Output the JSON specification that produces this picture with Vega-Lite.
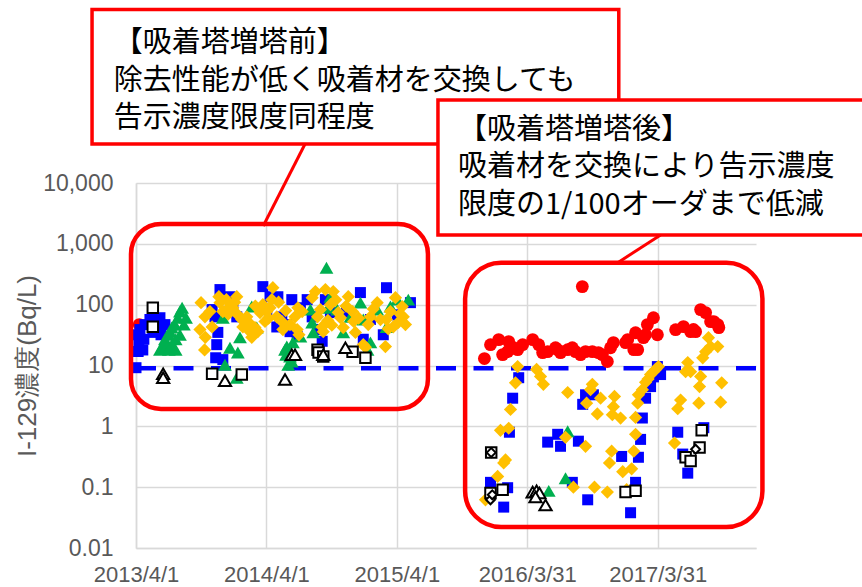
{
  "$schema": "https://vega.github.io/schema/vega-lite/v6.json",
  "width": 620,
  "height": 365,
  "autosize": "none",
  "padding": {"left": 136, "top": 183, "right": 106, "bottom": 39},
  "background": "#FFFFFF",
  "config": {
    "view": {"stroke": null},
    "font": "Liberation Sans",
    "axis": {"grid": true, "gridColor": "#D9D9D9", "gridWidth": 1.5, "domainColor": "#D9D9D9", "domainWidth": 1.5, "ticks": false, "tickSize": 0, "labelColor": "#595959", "labelFont": "Liberation Sans", "labelOverlap": false, "labelFlush": false}
  },
  "datasets": {
    "points": [
      {"s":"r","d":"2013-04-10","v":47},
      {"s":"r","d":"2015-12-02","v":13},{"s":"r","d":"2015-12-19","v":22},{"s":"r","d":"2016-01-11","v":26.6},{"s":"r","d":"2016-01-22","v":15.1},{"s":"r","d":"2016-02-05","v":16.9},{"s":"r","d":"2016-02-08","v":24.7},{"s":"r","d":"2016-02-22","v":19.6},{"s":"r","d":"2016-03-04","v":18.2},{"s":"r","d":"2016-03-18","v":22},{"s":"r","d":"2016-04-15","v":26.6},{"s":"r","d":"2016-05-02","v":22},{"s":"r","d":"2016-05-13","v":16.3},{"s":"r","d":"2016-05-27","v":16.9},{"s":"r","d":"2016-06-18","v":19.6},{"s":"r","d":"2016-06-24","v":18.2},{"s":"r","d":"2016-07-02","v":16.3},{"s":"r","d":"2016-07-22","v":18.2},{"s":"r","d":"2016-08-04","v":19.6},{"s":"r","d":"2016-08-13","v":16.9},{"s":"r","d":"2016-08-27","v":15.1},{"s":"r","d":"2016-09-01","v":198},{"s":"r","d":"2016-09-10","v":16.9},{"s":"r","d":"2016-09-29","v":16.9},{"s":"r","d":"2016-10-16","v":16.3},{"s":"r","d":"2016-10-27","v":15.1},{"s":"r","d":"2016-11-10","v":11.6},{"s":"r","d":"2016-11-19","v":19.6},{"s":"r","d":"2016-11-27","v":23.8},{"s":"r","d":"2016-12-31","v":23.8},{"s":"r","d":"2017-01-06","v":26.6},{"s":"r","d":"2017-01-23","v":18.2},{"s":"r","d":"2017-01-28","v":34.6},{"s":"r","d":"2017-02-03","v":18.2},{"s":"r","d":"2017-02-19","v":28.7},{"s":"r","d":"2017-02-25","v":32},{"s":"r","d":"2017-03-02","v":47},{"s":"r","d":"2017-03-19","v":61},{"s":"r","d":"2017-03-30","v":32},{"s":"r","d":"2017-05-20","v":38.8},{"s":"r","d":"2017-06-11","v":43.5},{"s":"r","d":"2017-07-01","v":36},{"s":"r","d":"2017-07-09","v":39},{"s":"r","d":"2017-07-15","v":36},{"s":"r","d":"2017-07-29","v":83},{"s":"r","d":"2017-08-12","v":74},{"s":"r","d":"2017-08-26","v":52.6},{"s":"r","d":"2017-09-04","v":52.6},{"s":"r","d":"2017-09-15","v":47},{"s":"r","d":"2017-09-18","v":42},

      {"s":"b","d":"2013-04-01","v":9.2},{"s":"b","d":"2013-04-04","v":32},{"s":"b","d":"2013-04-12","v":39},{"s":"b","d":"2013-04-09","v":22},{"s":"b","d":"2013-04-23","v":27},{"s":"b","d":"2013-04-26","v":47},{"s":"b","d":"2013-05-10","v":57},{"s":"b","d":"2013-05-18","v":35},{"s":"b","d":"2013-05-30","v":47},{"s":"b","d":"2013-06-07","v":61},{"s":"b","d":"2013-06-10","v":32},{"s":"b","d":"2013-06-21","v":47},{"s":"b","d":"2013-04-20","v":18},{"s":"b","d":"2013-04-07","v":17},
      {"s":"b","d":"2013-11-22","v":177},{"s":"b","d":"2013-12-20","v":135},{"s":"b","d":"2013-10-31","v":83},{"s":"b","d":"2013-11-08","v":63},{"s":"b","d":"2013-11-16","v":35},{"s":"b","d":"2013-11-13","v":22},{"s":"b","d":"2013-11-10","v":13.4},{"s":"b","d":"2013-11-30","v":12.5},{"s":"b","d":"2013-12-28","v":89},{"s":"b","d":"2014-01-08","v":63},{"s":"b","d":"2014-03-22","v":198},{"s":"b","d":"2014-04-11","v":135},{"s":"b","d":"2014-04-30","v":43},{"s":"b","d":"2014-05-28","v":47},{"s":"b","d":"2014-06-11","v":121},{"s":"b","d":"2014-05-14","v":63},{"s":"b","d":"2014-04-02","v":83},{"s":"b","d":"2014-06-26","v":30},{"s":"b","d":"2014-07-24","v":121},{"s":"b","d":"2014-08-22","v":39},{"s":"b","d":"2014-09-04","v":25},{"s":"b","d":"2014-08-07","v":63},{"s":"b","d":"2014-09-13","v":121},{"s":"b","d":"2014-12-20","v":158},{"s":"b","d":"2014-11-11","v":74},{"s":"b","d":"2014-09-27","v":74},{"s":"b","d":"2014-12-28","v":27},{"s":"b","d":"2015-03-03","v":190},{"s":"b","d":"2015-02-22","v":32},{"s":"b","d":"2015-01-17","v":57},{"s":"b","d":"2015-05-09","v":108},{"s":"b","d":"2015-04-02","v":68},{"s":"b","d":"2014-05-09","v":47},{"s":"b","d":"2014-06-06","v":36},{"s":"b","d":"2014-07-05","v":89},{"s":"b","d":"2014-05-03","v":135},
      {"s":"b","d":"2016-03-07","v":6.3},{"s":"b","d":"2016-02-19","v":2.9},{"s":"b","d":"2016-02-10","v":0.8},{"s":"b","d":"2015-12-19","v":0.12},{"s":"b","d":"2016-02-05","v":0.098},{"s":"b","d":"2016-01-25","v":0.047},{"s":"b","d":"2016-05-27","v":0.55},{"s":"b","d":"2016-06-24","v":0.74},{"s":"b","d":"2016-07-02","v":0.47},{"s":"b","d":"2016-08-21","v":0.57},{"s":"b","d":"2016-08-04","v":0.12},{"s":"b","d":"2016-09-16","v":0.062},{"s":"b","d":"2016-09-10","v":3.3},{"s":"b","d":"2016-10-02","v":3.3},{"s":"b","d":"2016-09-02","v":2.3},{"s":"b","d":"2016-12-20","v":0.32},{"s":"b","d":"2017-02-05","v":0.31},{"s":"b","d":"2017-02-11","v":0.61},{"s":"b","d":"2017-02-16","v":1.37},{"s":"b","d":"2017-02-25","v":2.9},{"s":"b","d":"2017-03-11","v":4.5},{"s":"b","d":"2017-03-19","v":6.5},{"s":"b","d":"2017-03-30","v":9.6},{"s":"b","d":"2017-04-08","v":7.1},{"s":"b","d":"2017-01-28","v":0.12},{"s":"b","d":"2017-01-14","v":0.038},{"s":"b","d":"2017-05-26","v":0.8},{"s":"b","d":"2017-06-09","v":0.35},{"s":"b","d":"2017-06-23","v":0.17},{"s":"b","d":"2017-08-07","v":0.95},

      {"s":"g","d":"2013-06-07","v":18.2},{"s":"g","d":"2013-06-16","v":22},{"s":"g","d":"2013-06-21","v":27},{"s":"g","d":"2013-06-30","v":32},{"s":"g","d":"2013-07-05","v":36},{"s":"g","d":"2013-07-10","v":42},{"s":"g","d":"2013-07-19","v":47},{"s":"g","d":"2013-07-27","v":61},{"s":"g","d":"2013-08-02","v":77},{"s":"g","d":"2013-08-08","v":89},{"s":"g","d":"2013-06-24","v":19.6},{"s":"g","d":"2013-07-10","v":22},{"s":"g","d":"2013-07-21","v":27},{"s":"g","d":"2013-08-02","v":32},{"s":"g","d":"2013-08-13","v":47},{"s":"g","d":"2013-08-19","v":61},{"s":"g","d":"2013-07-02","v":18.2},{"s":"g","d":"2013-07-21","v":18.2},
      {"s":"g","d":"2013-11-30","v":61},{"s":"g","d":"2013-12-20","v":19.6},{"s":"g","d":"2014-01-17","v":29},{"s":"g","d":"2014-01-11","v":16.3},{"s":"g","d":"2014-02-19","v":93},{"s":"g","d":"2014-03-05","v":42},{"s":"g","d":"2013-12-06","v":10.3},{"s":"g","d":"2014-01-08","v":6.3},{"s":"g","d":"2014-05-28","v":20.5},{"s":"g","d":"2014-06-06","v":14},{"s":"g","d":"2014-06-01","v":10.3},{"s":"g","d":"2014-05-23","v":18.2},{"s":"g","d":"2014-06-14","v":24},{"s":"g","d":"2014-07-05","v":30},{"s":"g","d":"2014-08-02","v":83},{"s":"g","d":"2014-08-10","v":35},{"s":"g","d":"2014-08-07","v":51},{"s":"g","d":"2014-09-16","v":405},{"s":"g","d":"2014-09-27","v":135},{"s":"g","d":"2014-09-21","v":89},{"s":"g","d":"2014-10-16","v":83},{"s":"g","d":"2014-11-02","v":35},{"s":"g","d":"2014-11-22","v":63},{"s":"g","d":"2014-12-20","v":108},{"s":"g","d":"2014-12-28","v":57},{"s":"g","d":"2015-01-17","v":24},{"s":"g","d":"2015-02-05","v":83},{"s":"g","d":"2015-03-03","v":43},{"s":"g","d":"2015-04-02","v":121},{"s":"g","d":"2015-05-03","v":121},{"s":"g","d":"2015-03-14","v":93},{"s":"g","d":"2015-01-09","v":18.2},{"s":"g","d":"2014-06-11","v":11.6},{"s":"g","d":"2014-06-06","v":17},{"s":"g","d":"2014-05-26","v":15},
      {"s":"g","d":"2016-07-22","v":0.83},{"s":"g","d":"2016-07-16","v":0.14},{"s":"g","d":"2016-05-30","v":0.087},

      {"s":"y","d":"2013-09-30","v":108},{"s":"y","d":"2013-10-11","v":63},{"s":"y","d":"2013-09-27","v":39},{"s":"y","d":"2013-10-12","v":29},{"s":"y","d":"2013-10-10","v":18},{"s":"y","d":"2013-10-25","v":77},{"s":"y","d":"2013-10-31","v":43},{"s":"y","d":"2013-11-19","v":135},{"s":"y","d":"2013-11-22","v":108},{"s":"y","d":"2013-11-30","v":77},{"s":"y","d":"2013-12-10","v":121},{"s":"y","d":"2013-12-20","v":93},{"s":"y","d":"2013-12-28","v":89},{"s":"y","d":"2014-01-08","v":135},{"s":"y","d":"2014-01-11","v":68},{"s":"y","d":"2014-01-22","v":57},{"s":"y","d":"2014-01-25","v":43},{"s":"y","d":"2014-02-05","v":63},{"s":"y","d":"2014-02-08","v":39},{"s":"y","d":"2014-02-19","v":29},{"s":"y","d":"2014-02-28","v":42},{"s":"y","d":"2014-03-08","v":36},{"s":"y","d":"2014-03-14","v":74},{"s":"y","d":"2014-03-22","v":100},{"s":"y","d":"2014-03-28","v":53},{"s":"y","d":"2014-04-02","v":77},{"s":"y","d":"2014-04-11","v":89},{"s":"y","d":"2014-04-16","v":121},{"s":"y","d":"2014-04-19","v":190},{"s":"y","d":"2014-04-30","v":63},{"s":"y","d":"2014-05-14","v":53},{"s":"y","d":"2014-05-17","v":39},{"s":"y","d":"2014-06-06","v":47},{"s":"y","d":"2014-06-20","v":63},{"s":"y","d":"2014-06-26","v":39},{"s":"y","d":"2014-06-28","v":89},{"s":"y","d":"2014-07-10","v":77},{"s":"y","d":"2014-08-07","v":130},{"s":"y","d":"2014-08-16","v":164},{"s":"y","d":"2014-08-22","v":63},{"s":"y","d":"2014-08-30","v":83},{"s":"y","d":"2014-09-04","v":43},{"s":"y","d":"2014-09-07","v":36},{"s":"y","d":"2014-09-13","v":177},{"s":"y","d":"2014-09-27","v":100},{"s":"y","d":"2014-10-05","v":164},{"s":"y","d":"2014-10-19","v":74},{"s":"y","d":"2014-10-25","v":61},{"s":"y","d":"2014-11-02","v":42},{"s":"y","d":"2014-11-16","v":135},{"s":"y","d":"2014-11-28","v":77},{"s":"y","d":"2014-12-01","v":53},{"s":"y","d":"2014-12-06","v":35},{"s":"y","d":"2014-12-28","v":22},{"s":"y","d":"2015-01-03","v":20},{"s":"y","d":"2015-01-11","v":47},{"s":"y","d":"2015-01-17","v":63},{"s":"y","d":"2015-02-05","v":108},{"s":"y","d":"2015-02-14","v":57},{"s":"y","d":"2015-03-03","v":57},{"s":"y","d":"2015-03-14","v":77},{"s":"y","d":"2015-03-22","v":43},{"s":"y","d":"2015-03-28","v":130},{"s":"y","d":"2015-04-05","v":51},{"s":"y","d":"2015-04-16","v":93},{"s":"y","d":"2015-04-19","v":63},{"s":"y","d":"2015-04-25","v":47},{"s":"y","d":"2015-02-28","v":20.5},
      {"s":"y","d":"2013-12-15","v":70},{"s":"y","d":"2014-01-02","v":110},{"s":"y","d":"2014-02-12","v":50},{"s":"y","d":"2014-03-01","v":95},{"s":"y","d":"2014-04-07","v":60},{"s":"y","d":"2014-05-05","v":110},{"s":"y","d":"2014-05-25","v":80},{"s":"y","d":"2014-09-20","v":55},{"s":"y","d":"2014-10-12","v":120},{"s":"y","d":"2014-11-10","v":95},{"s":"y","d":"2014-12-15","v":60},{"s":"y","d":"2015-01-25","v":85},{"s":"y","d":"2015-03-08","v":40},{"s":"y","d":"2015-04-10","v":70},{"s":"y","d":"2014-07-01","v":32},{"s":"y","d":"2014-10-01","v":46},
      {"s":"y","d":"2016-03-04","v":9.6},{"s":"y","d":"2016-02-27","v":5.2},{"s":"y","d":"2016-02-13","v":1.9},{"s":"y","d":"2016-01-16","v":0.86},{"s":"y","d":"2016-02-08","v":0.93},{"s":"y","d":"2016-01-30","v":0.28},{"s":"y","d":"2016-01-25","v":0.25},{"s":"y","d":"2016-01-08","v":0.15},{"s":"y","d":"2015-12-05","v":0.062},{"s":"y","d":"2016-04-26","v":8.6},{"s":"y","d":"2016-05-07","v":6.6},{"s":"y","d":"2016-05-15","v":4.9},{"s":"y","d":"2016-07-22","v":3.6},{"s":"y","d":"2016-07-16","v":0.66},{"s":"y","d":"2016-09-10","v":0.47},{"s":"y","d":"2016-09-29","v":4.9},{"s":"y","d":"2016-09-24","v":4.0},{"s":"y","d":"2016-10-22","v":2.9},{"s":"y","d":"2016-09-13","v":2.4},{"s":"y","d":"2016-10-13","v":1.6},{"s":"y","d":"2016-11-30","v":3.1},{"s":"y","d":"2016-11-27","v":2.1},{"s":"y","d":"2016-11-24","v":1.55},{"s":"y","d":"2016-11-22","v":0.39},{"s":"y","d":"2016-11-16","v":0.25},{"s":"y","d":"2016-10-05","v":0.1},{"s":"y","d":"2016-11-10","v":0.083},{"s":"y","d":"2016-08-07","v":0.1},{"s":"y","d":"2016-12-17","v":1.37},{"s":"y","d":"2017-02-03","v":2.4},{"s":"y","d":"2017-01-28","v":1.4},{"s":"y","d":"2017-02-05","v":3.3},{"s":"y","d":"2017-02-16","v":4.0},{"s":"y","d":"2017-02-25","v":5.3},{"s":"y","d":"2017-03-11","v":7.1},{"s":"y","d":"2017-03-25","v":8.6},{"s":"y","d":"2017-04-02","v":9.6},{"s":"y","d":"2017-01-28","v":0.74},{"s":"y","d":"2017-01-23","v":0.39},{"s":"y","d":"2016-12-23","v":0.18},{"s":"y","d":"2017-01-17","v":0.2},{"s":"y","d":"2017-01-03","v":0.091},{"s":"y","d":"2017-08-20","v":28.7},{"s":"y","d":"2017-09-15","v":20.5},{"s":"y","d":"2017-08-04","v":13.4},{"s":"y","d":"2017-07-29","v":6.6},{"s":"y","d":"2017-06-23","v":11.2},{"s":"y","d":"2017-06-17","v":7.9},{"s":"y","d":"2017-07-26","v":4.5},{"s":"y","d":"2017-09-26","v":5.2},{"s":"y","d":"2017-07-24","v":2.4},{"s":"y","d":"2017-09-23","v":2.5},{"s":"y","d":"2017-06-03","v":2.7},{"s":"y","d":"2017-05-26","v":1.95},{"s":"y","d":"2017-05-17","v":0.53},{"s":"y","d":"2017-08-12","v":16.9},{"s":"y","d":"2017-08-26","v":20.5},{"s":"y","d":"2017-07-01","v":7.9},{"s":"y","d":"2017-03-18","v":7.8},{"s":"y","d":"2017-03-04","v":6.0},

      {"s":"sq","d":"2013-05-18","v":89},{"s":"sq","d":"2013-05-18","v":43.5},{"s":"sq","d":"2013-10-31","v":7.3},{"s":"sq","d":"2014-01-22","v":7.1},{"s":"sq","d":"2014-08-22","v":18.2},{"s":"sq","d":"2014-08-25","v":16.3},{"s":"sq","d":"2014-09-07","v":14},{"s":"sq","d":"2014-11-28","v":16.9},{"s":"sq","d":"2015-01-03","v":13.4},{"s":"sq","d":"2015-12-21","v":0.37},{"s":"sq","d":"2016-01-22","v":0.091},{"s":"sq","d":"2015-12-19","v":0.08},{"s":"sq","d":"2016-12-31","v":0.083},{"s":"sq","d":"2017-01-28","v":0.087},{"s":"sq","d":"2017-08-01","v":0.86},{"s":"sq","d":"2017-07-26","v":0.45},{"s":"sq","d":"2017-06-17","v":0.31},{"s":"sq","d":"2017-07-01","v":0.27},

      {"s":"tri","d":"2013-06-16","v":7.3},{"s":"tri","d":"2013-06-16","v":6.3},{"s":"tri","d":"2013-12-06","v":5.6},{"s":"tri","d":"2014-06-11","v":15},{"s":"tri","d":"2014-06-20","v":15},{"s":"tri","d":"2014-05-23","v":5.9},{"s":"tri","d":"2014-09-07","v":15},{"s":"tri","d":"2014-11-08","v":19.6},{"s":"tri","d":"2016-04-15","v":0.083},{"s":"tri","d":"2016-04-26","v":0.087},{"s":"tri","d":"2016-05-04","v":0.08},{"s":"tri","d":"2016-04-23","v":0.069},{"s":"tri","d":"2016-05-21","v":0.051},

      {"s":"dia","d":"2015-12-21","v":0.37},{"s":"dia","d":"2015-12-19","v":0.062},{"s":"dia","d":"2015-12-24","v":0.075},{"s":"dia","d":"2017-07-15","v":0.42}
    ],
    "limit": [{"v": 9}],
    "rounded": [
      {"k":"r1","x":"2013-03-18","x2":"2015-06-27","y":2120,"y2":1.93},
      {"k":"r2","x":"2015-10-09","x2":"2018-01-18","y":490,"y2":0.0221}
    ],
    "boxes": [
      {"k":"b1","x":"2012-11-29","x2":"2016-12-12","y":7130000,"y2":43800},
      {"k":"b2","x":"2015-07-25","x2":"2018-12-15","y":231700,"y2":1400}
    ],
    "callouts": [
      {"k":"b1","x":"2014-07-18","y":43800,"x2":"2014-03-23","y2":1965},
      {"k":"b2","x":"2017-04-08","y":1400,"x2":"2016-12-09","y2":490}
    ],
    "texts": [
      {"k":"b1","t":"【吸着塔増塔前】\n除去性能が低く吸着材を交換しても\n告示濃度限度同程度","d":"2013-01-29","v":2000000},
      {"k":"b2","t":"【吸着塔増塔後】\n吸着材を交換により告示濃度\n限度の1/100オーダまで低減","d":"2015-09-19","v":74400}
    ]
  },
  "encoding": {
    "x": {"type": "temporal",
      "scale": {"type": "utc", "domain": [{"year":2013,"month":4,"date":1,"utc":true},{"year":2017,"month":12,"date":31,"utc":true}], "nice": false},
      "axis": {
        "values": [{"year":2013,"month":4,"date":1,"utc":true},{"year":2014,"month":4,"date":1,"utc":true},{"year":2015,"month":4,"date":1,"utc":true},{"year":2016,"month":3,"date":31,"utc":true},{"year":2017,"month":3,"date":31,"utc":true}],
        "labelExpr": "utcFormat(datum.value, '%Y/%-m/%-d')",
        "title": null, "labelPadding": 16, "labelFontSize": 22
      }
    },
    "y": {"type": "quantitative",
      "scale": {"type": "log", "domain": [0.01, 10000], "nice": false},
      "axis": {
        "values": [0.01, 0.1, 1, 10, 100, 1000, 10000], "format": ",",
        "title": "I-129濃度(Bq/L)", "titleFontSize": 26, "titleColor": "#595959", "titleFont": "Liberation Sans",
        "titleFontWeight": "normal", "titlePadding": 2,
        "labelPadding": 23, "labelFontSize": 23
      }
    }
  },
  "layer": [
    {
      "data": {"name": "limit"},
      "mark": {"type": "rule", "color": "#0000FF", "strokeWidth": 4.5, "strokeDash": [20, 17.5]},
      "encoding": {"y": {"field": "v"}}
    },
    {
      "data": {"name": "points"},
      "transform": [{"filter": "datum.s == 'r'"}],
      "mark": {"type": "point", "shape": "circle", "filled": true, "color": "#FF0000", "size": 165, "opacity": 1},
      "encoding": {"x": {"field": "d"}, "y": {"field": "v"}}
    },
    {
      "data": {"name": "points"},
      "transform": [{"filter": "datum.s == 'b'"}],
      "mark": {"type": "point", "shape": "square", "filled": true, "color": "#0000FF", "size": 121, "opacity": 1},
      "encoding": {"x": {"field": "d"}, "y": {"field": "v"}}
    },
    {
      "data": {"name": "points"},
      "transform": [{"filter": "datum.s == 'g'"}],
      "mark": {"type": "point", "shape": "triangle-up", "filled": true, "color": "#00B050", "size": 190, "opacity": 1},
      "encoding": {"x": {"field": "d"}, "y": {"field": "v"}}
    },
    {
      "data": {"name": "points"},
      "transform": [{"filter": "datum.s == 'y'"}],
      "mark": {"type": "point", "shape": "diamond", "filled": true, "color": "#FFC000", "size": 175, "opacity": 1},
      "encoding": {"x": {"field": "d"}, "y": {"field": "v"}}
    },
    {
      "data": {"name": "points"},
      "transform": [{"filter": "datum.s == 'sq'"}],
      "mark": {"type": "point", "shape": "square", "filled": true, "fill": "#FFFFFF", "stroke": "#000000", "strokeWidth": 2, "size": 110, "opacity": 1},
      "encoding": {"x": {"field": "d"}, "y": {"field": "v"}}
    },
    {
      "data": {"name": "points"},
      "transform": [{"filter": "datum.s == 'tri'"}],
      "mark": {"type": "point", "shape": "triangle-up", "filled": true, "fill": "#FFFFFF", "stroke": "#000000", "strokeWidth": 2, "size": 150, "opacity": 1},
      "encoding": {"x": {"field": "d"}, "y": {"field": "v"}}
    },
    {
      "data": {"name": "points"},
      "transform": [{"filter": "datum.s == 'dia'"}],
      "mark": {"type": "point", "shape": "diamond", "filled": true, "fill": "#FFFFFF", "stroke": "#000000", "strokeWidth": 2, "size": 80, "opacity": 1},
      "encoding": {"x": {"field": "d"}, "y": {"field": "v"}}
    },
    {
      "data": {"name": "rounded"},
      "transform": [{"filter": "datum.k == 'r1'"}],
      "mark": {"type": "rect", "filled": false, "stroke": "#FF0000", "strokeWidth": 4.5, "cornerRadius": 30, "clip": false},
      "encoding": {"x": {"field": "x"}, "x2": {"field": "x2"}, "y": {"field": "y"}, "y2": {"field": "y2"}}
    },
    {
      "data": {"name": "rounded"},
      "transform": [{"filter": "datum.k == 'r2'"}],
      "mark": {"type": "rect", "filled": false, "stroke": "#FF0000", "strokeWidth": 4.5, "cornerRadius": 36, "clip": false},
      "encoding": {"x": {"field": "x"}, "x2": {"field": "x2"}, "y": {"field": "y"}, "y2": {"field": "y2"}}
    },
    {
      "data": {"name": "boxes"},
      "transform": [{"filter": "datum.k == 'b1'"}],
      "mark": {"type": "rect", "fill": "#FFFFFF", "stroke": "#FF0000", "strokeWidth": 3.5, "clip": false},
      "encoding": {"x": {"field": "x"}, "x2": {"field": "x2"}, "y": {"field": "y"}, "y2": {"field": "y2"}}
    },
    {
      "data": {"name": "texts"},
      "transform": [{"filter": "datum.k == 'b1'"}],
      "mark": {"type": "text", "align": "left", "baseline": "middle", "lineBreak": "\n", "lineHeight": 37.5, "font": "Noto Sans CJK JP", "fontSize": 29, "color": "#000000", "clip": false},
      "encoding": {"x": {"field": "d"}, "y": {"field": "v"}, "text": {"field": "t"}}
    },
    {
      "data": {"name": "callouts"},
      "mark": {"type": "rule", "color": "#FF0000", "strokeWidth": 3, "clip": false},
      "encoding": {"x": {"field": "x"}, "x2": {"field": "x2"}, "y": {"field": "y"}, "y2": {"field": "y2"}}
    },
    {
      "data": {"name": "boxes"},
      "transform": [{"filter": "datum.k == 'b2'"}],
      "mark": {"type": "rect", "fill": "#FFFFFF", "stroke": "#FF0000", "strokeWidth": 3.5, "clip": false},
      "encoding": {"x": {"field": "x"}, "x2": {"field": "x2"}, "y": {"field": "y"}, "y2": {"field": "y2"}}
    },
    {
      "data": {"name": "texts"},
      "transform": [{"filter": "datum.k == 'b2'"}],
      "mark": {"type": "text", "align": "left", "baseline": "middle", "lineBreak": "\n", "lineHeight": 37.5, "font": "Noto Sans CJK JP", "fontSize": 29, "color": "#000000", "clip": false},
      "encoding": {"x": {"field": "d"}, "y": {"field": "v"}, "text": {"field": "t"}}
    }
  ]
}
